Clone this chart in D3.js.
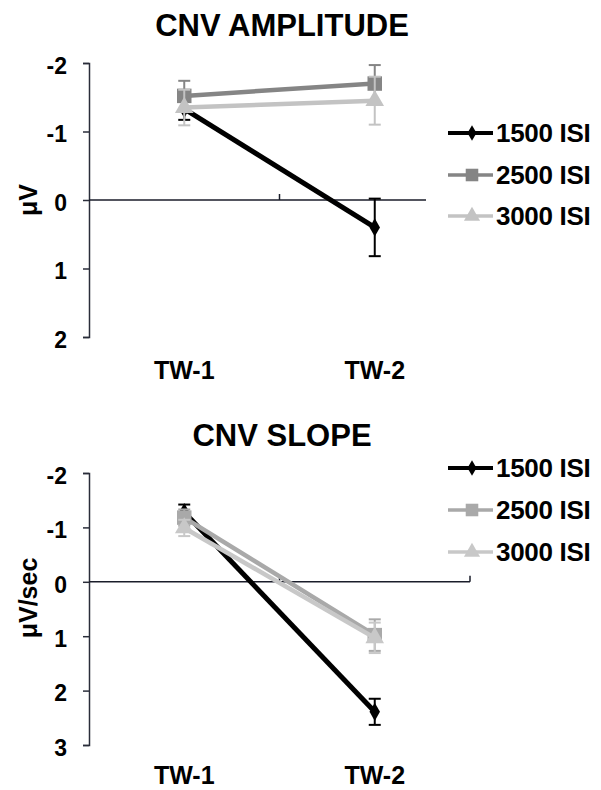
<!DOCTYPE html>
<html>
<head>
<meta charset="utf-8">
<script src="https://cdn.jsdelivr.net/npm/d3@7"></script>
<style>
  body { margin: 0; background: #fff; }
  text { font-family: "Liberation Sans", Arial, sans-serif; font-weight: bold; fill: #000; }
</style>
</head>
<body>
<svg id="chart" width="601" height="790"></svg>
<script>
// time windows and ISI conditions
var windows = ["TW-1", "TW-2"];
var seriesNames = ["1500 ISI", "2500 ISI", "3000 ISI"];

// CNV amplitude (uV), negative up
var ampMean = [[-1.33, 0.40], [-1.52, -1.70], [-1.35, -1.45]];
var ampErr  = [[0.16, 0.42], [0.22, 0.27], [0.26, 0.35]];
var ampTicks = [-2, -1, 0, 1, 2];

// CNV slope (uV/sec)
var slopeMean = [[-1.28, 2.39], [-1.18, 0.98], [-0.99, 1.03]];
var slopeErr  = [[0.14, 0.24], [0.15, 0.29], [0.15, 0.28]];
var slopeTicks = [-2, -1, 0, 1, 2, 3];

var svg = d3.select("#chart");
var symbols = [d3.symbolDiamond, d3.symbolSquare, d3.symbolTriangle];
var symSize = [95, 210, 150];

function drawPanel(p) {
  var g = svg.append("g");

  var x = d3.scaleBand().domain(windows).range([89, 470]);
  var y = d3.scaleLinear().domain(d3.extent(p.ticks)).range(p.yRange);

  g.append("text")
    .attr("x", 282).attr("y", p.titleY)
    .attr("text-anchor", "middle")
    .style("font-size", "31px")
    .text(p.title);

  // y axis
  var yAxis = d3.axisLeft(y).tickValues(p.ticks)
    .tickFormat(function(d) { return String(d); })
    .tickSize(6).tickSizeOuter(6).tickPadding(16);
  var ya = g.append("g").attr("transform", "translate(89,0)").call(yAxis);
  ya.select(".domain").attr("stroke", "#2a2d3a").attr("stroke-width", 1.5);
  ya.selectAll(".tick line").attr("stroke", "#2a2d3a").attr("stroke-width", 1.5);
  ya.selectAll(".tick text")
    .attr("dy", "0.45em")
    .style("font-size", "23px")
    .style("font-family", "'Liberation Sans', Arial, sans-serif")
    .style("font-weight", "bold");

  g.append("text")
    .attr("transform", "translate(" + 37 + "," + p.yLabelY + ") rotate(-90)")
    .attr("text-anchor", "middle")
    .style("font-size", "25px")
    .text(p.yLabel);

  // zero line with category ticks
  var y0 = y(0);
  g.append("line")
    .attr("x1", 89).attr("x2", 470)
    .attr("y1", y0).attr("y2", y0)
    .attr("stroke", "#1a1d2a").attr("stroke-width", 1.5);
  g.selectAll(".ctick").data(windows).enter().append("line")
    .attr("x1", function(d) { return x(d) + x.bandwidth(); })
    .attr("x2", function(d) { return x(d) + x.bandwidth(); })
    .attr("y1", y0).attr("y2", y0 - 6)
    .attr("stroke", "#1a1d2a").attr("stroke-width", 1.5);

  // category labels
  g.selectAll(".cat").data(windows).enter().append("text")
    .attr("x", function(d) { return x(d) + x.bandwidth() / 2; })
    .attr("y", p.catY)
    .attr("text-anchor", "middle")
    .style("font-size", "25px")
    .text(function(d) { return d; });

  var line = d3.line()
    .x(function(d, i) { return x(windows[i]) + x.bandwidth() / 2; })
    .y(function(d) { return y(d); });

  p.mean.forEach(function(vals, s) {
    var col = p.colors[s];
    var sg = g.append("g");
    // error bars
    vals.forEach(function(v, i) {
      var cx = x(windows[i]) + x.bandwidth() / 2;
      var e = p.err[s][i];
      sg.append("line").attr("x1", cx).attr("x2", cx)
        .attr("y1", y(v - e)).attr("y2", y(v + e))
        .attr("stroke", col).attr("stroke-width", 2);
      [v - e, v + e].forEach(function(c) {
        sg.append("line").attr("x1", cx - 6).attr("x2", cx + 6)
          .attr("y1", y(c)).attr("y2", y(c))
          .attr("stroke", col).attr("stroke-width", 2);
      });
    });
    sg.append("path").datum(vals)
      .attr("d", line)
      .attr("fill", "none")
      .attr("stroke", col)
      .attr("stroke-width", s == 0 ? 5 : 4.5);
    sg.selectAll(".pt").data(vals).enter().append("path")
      .attr("transform", function(d, i) {
        return "translate(" + (x(windows[i]) + x.bandwidth() / 2) + "," + y(d) + ")";
      })
      .attr("d", d3.symbol().type(symbols[s]).size(symSize[s]))
      .attr("fill", col);
  });

  // legend
  var lg = g.append("g");
  lg.append("rect")
    .attr("x", 426).attr("y", p.legendY[0] - 22)
    .attr("width", 175).attr("height", p.legendY[2] - p.legendY[0] + 44)
    .attr("fill", "#fff");
  seriesNames.forEach(function(name, s) {
    var ly = p.legendY[s];
    lg.append("line").attr("x1", 448).attr("x2", 493)
      .attr("y1", ly).attr("y2", ly)
      .attr("stroke", p.colors[s]).attr("stroke-width", s == 0 ? 4 : 3.5);
    lg.append("path")
      .attr("transform", "translate(472," + ly + ")")
      .attr("d", d3.symbol().type(symbols[s]).size(symSize[s] * 0.75))
      .attr("fill", p.colors[s]);
    lg.append("text")
      .attr("x", 496).attr("y", ly + 9)
      .style("font-size", "26px")
      .style("letter-spacing", "-0.3px")
      .text(name);
  });
}

drawPanel({
  title: "CNV AMPLITUDE", titleY: 36,
  ticks: ampTicks, yRange: [63, 337],
  yLabel: "\u03bcV", yLabelY: 200, catY: 379,
  mean: ampMean, err: ampErr,
  colors: ["#000000", "#858585", "#c3c3c3"],
  legendY: [133, 175, 216]
});

drawPanel({
  title: "CNV SLOPE", titleY: 446,
  ticks: slopeTicks, yRange: [473, 745],
  yLabel: "\u03bcV/sec", yLabelY: 598, catY: 784,
  mean: slopeMean, err: slopeErr,
  colors: ["#000000", "#a9a9a9", "#c8c8c8"],
  legendY: [468, 510, 552]
});
</script>
</body>
</html>
